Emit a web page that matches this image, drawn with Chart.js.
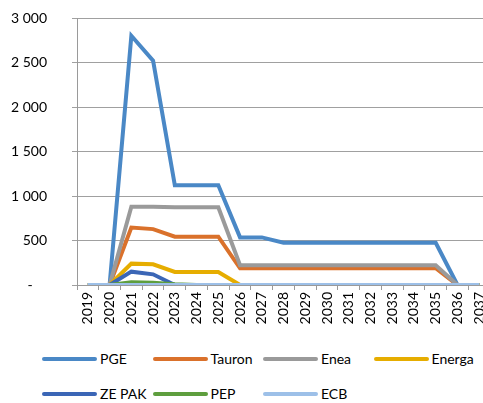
<!DOCTYPE html>
<html>
<head>
<meta charset="utf-8">
<script src="https://cdn.jsdelivr.net/npm/chart.js@4"></script>
<style>
    html, body { margin: 0; padding: 0; overflow: hidden; background: #fff; width: 483px; height: 403px; }
    #wrap { position: absolute; left: 0; top: 0; width: 498px; height: 335px; }
    #legend { position: absolute; left: 42px; top: 350px; width: 450px; font-family: Lato, "Open Sans", sans-serif; font-size: 14px; color: #000; }
    .item { position: absolute; display: flex; align-items: center; white-space: nowrap; }
    .item span.line { display: inline-block; width: 55px; height: 4px; border-radius: 2px; margin-right: 3px; }
</style>
</head>
<body>
<div id="wrap"><canvas id="chart"></canvas></div>
<div id="legend"></div>
<script>
    const categories = ['2019', '2020', '2021', '2022', '2023', '2024', '2025', '2026', '2027', '2028',
        '2029', '2030', '2031', '2032', '2033', '2034', '2035', '2036', '2037'];

    const pge    = [0, 0, 2800, 2520, 1120, 1120, 1120, 535, 535, 475, 475, 475, 475, 475, 475, 475, 475, 0, 0];
    const tauron = [0, 0, 645, 628, 543, 543, 543, 188, 188, 188, 188, 188, 188, 188, 188, 188, 188, 0, 0];
    const enea   = [0, 0, 880, 880, 873, 873, 873, 222, 222, 222, 222, 222, 222, 222, 222, 222, 222, 0, 0];
    const energa = [0, 0, 240, 232, 146, 146, 146, 0, 0, 0, 0, 0, 0, 0, 0, 0, 0, 0, 0];
    const zepak  = [0, 0, 150, 120, 0, 0, 0, 0, 0, 0, 0, 0, 0, 0, 0, 0, 0, 0, 0];
    const pep    = [0, 0, 30, 25, 8, 0, 0, 0, 0, 0, 0, 0, 0, 0, 0, 0, 0, 0, 0];
    const ecb    = [0, 0, 0, 0, 0, 0, 0, 0, 0, 0, 0, 0, 0, 0, 0, 0, 0, 0, 0];

    const yTicks = [0, 500, 1000, 1500, 2000, 2500, 3000];

    const series = [
        {label: 'PGE', data: pge, color: '#4A88C6'},
        {label: 'Tauron', data: tauron, color: '#DA712B'},
        {label: 'Enea', data: enea, color: '#9A9A9A'},
        {label: 'Energa', data: energa, color: '#E6AD00'},
        {label: 'ZE PAK', data: zepak, color: '#3B66B6'},
        {label: 'PEP', data: pep, color: '#5E9E3E'},
        {label: 'ECB', data: ecb, color: '#9DC0E8'}
    ];

    function formatTick(value) {
        if (value === 0) return '-    ';
        return String(value).replace(/\B(?=(\d{3})+(?!\d))/g, ' ');
    }

    const ctx = document.getElementById('chart').getContext('2d');
    const myChart = new Chart(ctx, {
        type: 'line',
        data: {
            labels: categories,
            datasets: series.map((s, i) => ({
                label: s.label,
                data: s.data,
                borderColor: s.color,
                backgroundColor: s.color,
                borderWidth: 4,
                pointRadius: 0,
                tension: 0,
                fill: false,
                order: series.length - i
            }))
        },
        options: {
            responsive: true,
            maintainAspectRatio: false,
            animation: false,
            layout: {
                padding: {top: 18, right: 0, bottom: 0, left: 0}
            },
            plugins: {
                legend: {display: false},
                tooltip: {enabled: false}
            },
            scales: {
                x: {
                    offset: true,
                    grid: {
                        offset: true,
                        drawOnChartArea: false,
                        tickLength: 5,
                        color: '#9a9a9a'
                    },
                    border: {color: '#9a9a9a'},
                    ticks: {
                        minRotation: 90,
                        maxRotation: 90,
                        autoSkip: false,
                        padding: 2,
                        color: '#000',
                        font: {family: 'Lato, "Open Sans", sans-serif', size: 14}
                    },
                    afterFit: function(scale) { scale.height = 50; }
                },
                y: {
                    min: 0,
                    max: 3000,
                    afterBuildTicks: function(scale) {
                        scale.ticks = yTicks.map((v) => ({value: v}));
                    },
                    grid: {
                        tickLength: 5,
                        color: '#a0a0a0'
                    },
                    border: {color: '#9a9a9a'},
                    ticks: {
                        padding: 25,
                        color: '#000',
                        callback: formatTick,
                        font: {family: 'Lato, "Open Sans", sans-serif', size: 14}
                    },
                    afterFit: function(scale) {
                        scale.width = 77;
                        scale.paddingTop = 0;
                        scale.paddingBottom = 0;
                    }
                }
            }
        }
    });

    // legend as html, 4 per row
    const legend = document.getElementById('legend');
    series.forEach((s, i) => {
        const item = document.createElement('div');
        item.className = 'item';
        item.style.left = ((i % 4) * 110.5) + 'px';
        item.style.top = (Math.floor(i / 4) * 35) + 'px';
        item.innerHTML = '<span class="line" style="background:' + s.color + '"></span>' + s.label;
        legend.appendChild(item);
    });
</script>
</body>
</html>
